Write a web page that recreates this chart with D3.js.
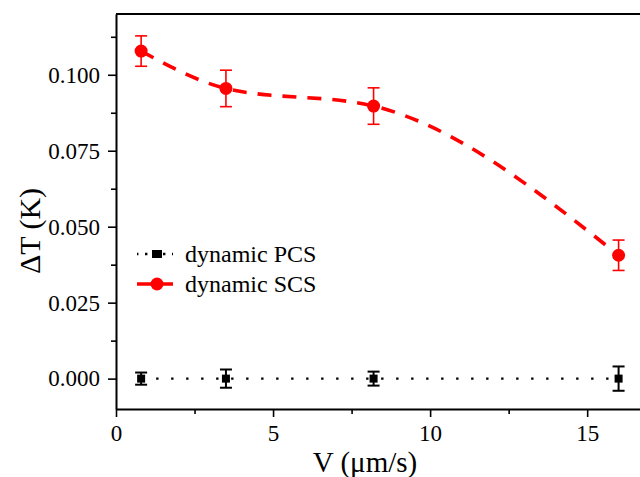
<!DOCTYPE html>
<html>
<head>
<meta charset="utf-8">
<script src="https://cdn.jsdelivr.net/npm/d3@7"></script>
<style>
  body { margin: 0; background: #fff; }
  text { font-family: "Liberation Serif", "Times New Roman", serif; fill: #000; }
</style>
</head>
<body>
<div id="chart"></div>
<script>
// Data
const speeds = [0.8, 3.5, 8.2, 16.0];                 // V (um/s)
const scsValues = [0.1078, 0.0955, 0.0897, 0.0406];    // dynamic SCS
const scsErrors = [0.005, 0.006, 0.006, 0.005];
const pcsValues = [0, 0, 0, 0];                        // dynamic PCS
const pcsErrors = [0.002, 0.003, 0.0023, 0.004];
const xTicks = [0, 5, 10, 15];
const xMinorTicks = [2.5, 7.5, 12.5];
const yTicks = [0, 0.025, 0.05, 0.075, 0.1];
const yMinorTicks = [0.0125, 0.0375, 0.0625, 0.0875, 0.1125];
const seriesNames = ["dynamic PCS", "dynamic SCS"];

// Set the dimensions and margins of the graph
const margin = { top: 14, right: 0, bottom: 68, left: 116 };
const width = 534;
const height = 477 - margin.top - margin.bottom;

const svg = d3.select("#chart")
  .append("svg")
  .attr("width", 640)
  .attr("height", 477)
  .append("g")
  .attr("transform", "translate(" + margin.left + "," + margin.top + ")");

const x = d3.scaleLinear().domain([0, 17]).range([0, width]);
const y = d3.scaleLinear().domain([-0.01, 0.12]).range([height, 0]);

const scs = speeds.map(function(v, i) { return { x: v, y: scsValues[i], e: scsErrors[i] }; });
const pcs = speeds.map(function(v, i) { return { x: v, y: pcsValues[i], e: pcsErrors[i] }; });

// Axes
svg.append("g")
  .attr("transform", "translate(0," + height + ")")
  .call(d3.axisBottom(x).tickValues(xTicks).tickSize(8).tickPadding(8).tickSizeOuter(0));
svg.append("g")
  .attr("transform", "translate(0," + height + ")")
  .call(d3.axisBottom(x).tickValues(xMinorTicks).tickSize(5).tickSizeOuter(0).tickFormat(""))
  .select(".domain").remove();

svg.append("g")
  .call(d3.axisLeft(y).tickValues(yTicks).tickSize(8).tickPadding(8).tickSizeOuter(0)
    .tickFormat(d3.format(".3f")));
svg.append("g")
  .call(d3.axisLeft(y).tickValues(yMinorTicks).tickSize(5).tickSizeOuter(0).tickFormat(""))
  .select(".domain").remove();

svg.selectAll(".domain").attr("stroke-width", 2);
svg.selectAll(".tick line").attr("stroke-width", 1.6);
svg.selectAll(".tick text")
  .style("font-size", "23px")
  .style("font-family", "'Liberation Serif', serif");

// top frame line
svg.append("line")
  .attr("x1", 0).attr("x2", width)
  .attr("y1", 0).attr("y2", 0)
  .attr("stroke", "#000")
  .attr("stroke-width", 2);

// Axis titles
svg.append("text")
  .attr("x", 249)
  .attr("y", height + 63)
  .attr("text-anchor", "middle")
  .style("font-size", "29px")
  .text("V (\u03bcm/s)");

svg.append("text")
  .attr("transform", "translate(" + (-76) + "," + (231 - margin.top) + ") rotate(-90)")
  .attr("text-anchor", "middle")
  .style("font-size", "30px")
  .text("\u0394T (K)");

// PCS dotted line
const line = d3.line().x(function(d) { return x(d.x); }).y(function(d) { return y(d.y); });
svg.append("path")
  .datum(pcs)
  .attr("d", line)
  .attr("fill", "none")
  .attr("stroke", "#000")
  .attr("stroke-width", 2.4)
  .attr("stroke-dasharray", "2.4,12.6");

// SCS dashed spline
svg.append("path")
  .datum(scs)
  .attr("d", line.curve(d3.curveMonotoneX))
  .attr("fill", "none")
  .attr("stroke", "#ff0000")
  .attr("stroke-width", 3.6)
  .attr("stroke-dasharray", "14,11");

// Error bars
function errorBars(data, color, w) {
  const g = svg.append("g").attr("stroke", color).attr("stroke-width", w);
  data.forEach(function(d) {
    const cx = x(d.x);
    g.append("line").attr("x1", cx).attr("x2", cx).attr("y1", y(d.y + d.e)).attr("y2", y(d.y - d.e));
    g.append("line").attr("x1", cx - 6).attr("x2", cx + 6).attr("y1", y(d.y + d.e)).attr("y2", y(d.y + d.e));
    g.append("line").attr("x1", cx - 6).attr("x2", cx + 6).attr("y1", y(d.y - d.e)).attr("y2", y(d.y - d.e));
  });
}
errorBars(pcs, "#000", 2);
errorBars(scs, "#ff0000", 1.6);

// Markers
svg.selectAll(".pcs")
  .data(pcs)
  .enter().append("rect")
  .attr("x", function(d) { return x(d.x) - 4; })
  .attr("y", function(d) { return y(d.y) - 4; })
  .attr("width", 8)
  .attr("height", 8)
  .attr("fill", "#000");

svg.selectAll(".scs")
  .data(scs)
  .enter().append("circle")
  .attr("cx", function(d) { return x(d.x); })
  .attr("cy", function(d) { return y(d.y); })
  .attr("r", 6.5)
  .attr("fill", "#ff0000");

// Legend
const legend = svg.append("g").attr("transform", "translate(" + (137 - margin.left) + "," + (254 - margin.top) + ")");
legend.append("line")
  .attr("x1", 0).attr("x2", 36).attr("y1", 0).attr("y2", 0)
  .attr("stroke", "#000").attr("stroke-width", 2.4)
  .attr("stroke-dasharray", "2.4,6.6")
  .attr("stroke-dashoffset", 1);
legend.append("rect").attr("x", 15).attr("y", -4).attr("width", 10).attr("height", 8).attr("fill", "#000");
legend.append("text").attr("x", 48).attr("y", 8).style("font-size", "24px").text(seriesNames[0]);

legend.append("line")
  .attr("x1", 0).attr("x2", 36).attr("y1", 30).attr("y2", 30)
  .attr("stroke", "#ff0000").attr("stroke-width", 3.4);
legend.append("circle").attr("cx", 20).attr("cy", 30).attr("r", 6.5).attr("fill", "#ff0000");
legend.append("text").attr("x", 48).attr("y", 38).style("font-size", "24px").text(seriesNames[1]);
</script>
</body>
</html>
